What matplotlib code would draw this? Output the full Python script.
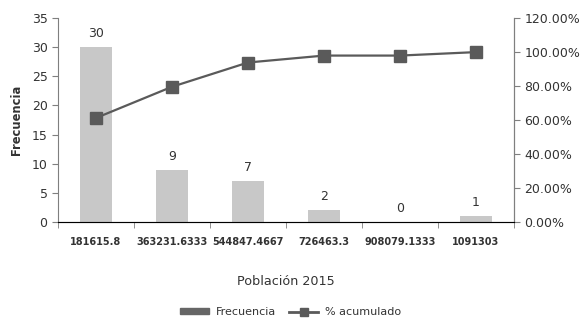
import matplotlib.pyplot as plt
import numpy as np
from matplotlib.ticker import FuncFormatter

plt.rcParams['font.family'] = ['DejaVu Sans']

clases = ["181615.8", "363231.6333", "544847.4667", "726463.3", "908079.1333", "1091303"]
frecuencia = [30, 9, 7, 2, 0, 1]
acumulado = [61.22, 79.59, 93.88, 97.96, 97.96, 100.0]

bar_color = '#c8c8c8'
line_color = '#5a5a5a'
axis_color = '#7f7f7f'
text_color = '#333333'

fig = plt.figure(figsize=(5.81, 3.24), dpi=100)
ax = fig.add_axes([0.0998, 0.315, 0.785, 0.629])
x = np.arange(len(clases))

ax.bar(x, frecuencia, width=0.41, color=bar_color, zorder=2)
for xi, v in zip(x, frecuencia):
    ax.text(xi, v + 1.2, str(v), ha='center', va='bottom', fontsize=9, color=text_color)

ax.set_xlim(-0.5, len(clases) - 0.5)
ax.set_ylim(0, 35)
ax.set_yticks(range(0, 36, 5))
ax.set_xticks(x)
ax.set_xticklabels(clases, fontsize=7, fontweight='bold', color=text_color)
ax.tick_params(axis='x', length=0, pad=11)
ax.set_xticks(np.arange(-0.5, len(clases), 1), minor=True)
ax.tick_params(axis='x', which='minor', length=4, color=axis_color)
ax.tick_params(axis='y', labelsize=9, colors=text_color, color=axis_color, length=4)
ax.set_ylabel("Frecuencia", fontsize=8.3, fontweight='bold', color=text_color, labelpad=6)
ax.set_xlabel("Población 2015", fontsize=9.2, color=text_color, labelpad=20)
ax.spines['top'].set_visible(False)
for s in ['left', 'right', 'bottom']:
    ax.spines[s].set_color(axis_color)

ax2 = ax.twinx()
ax2.plot(x, acumulado, color=line_color, lw=1.6, marker='s', markersize=8.5, zorder=3)
ax2.set_ylim(0, 120)
ax2.set_yticks(range(0, 121, 20))
ax2.yaxis.set_major_formatter(FuncFormatter(lambda v, p: f"{v:.2f}%"))
ax2.tick_params(axis='y', labelsize=9, colors=text_color, color=axis_color, length=4)
ax2.spines['top'].set_visible(False)
ax2.spines['right'].set_color(axis_color)
ax2.spines['left'].set_visible(False)

handles = [plt.Rectangle((0, 0), 1, 1, color='#666666'),
           plt.Line2D([], [], color=line_color, lw=2, marker='s', markersize=6)]
fig.legend(handles, ["Frecuencia", "% acumulado"], loc='lower center',
           bbox_to_anchor=(0.5, -0.01), ncol=2, frameon=False, fontsize=8,
           handlelength=2.6, handleheight=0.5, columnspacing=1.2, handletextpad=0.6,
           labelcolor=text_color)

fig.savefig("out.png", dpi=100)
